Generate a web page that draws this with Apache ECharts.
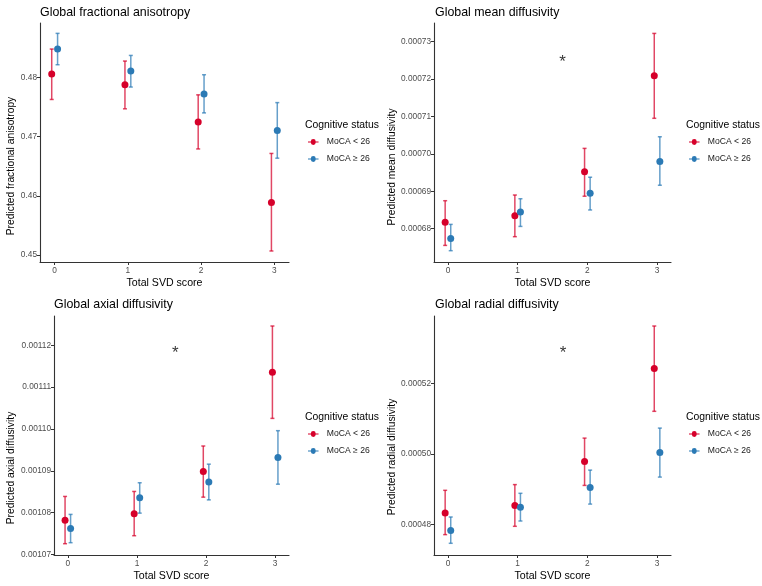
<!DOCTYPE html>
<html>
<head>
<meta charset="utf-8">
<script src="https://cdn.jsdelivr.net/npm/echarts@6/dist/echarts.min.js"></script>
<style>
html,body{margin:0;padding:0;background:#fff;}
#chart{width:762px;height:586px;}
</style>
</head>
<body>
<div id="chart"></div>
<script>
// ---------- DATA ----------
const svdScores = [0, 1, 2, 3];
const groupNames = ['MoCA < 26', 'MoCA \u2265 26'];
const panelTitles = ['Global fractional anisotropy', 'Global mean diffusivity', 'Global axial diffusivity', 'Global radial diffusivity'];
const yAxisTitles = ['Predicted fractional anisotropy', 'Predicted mean diffusivity', 'Predicted axial diffusivity', 'Predicted radial diffusivity'];
const xAxisTitle = 'Total SVD score';
const legendTitle = 'Cognitive status';

// Fractional anisotropy
const faLowEst  = [0.48058, 0.47876, 0.47249, 0.45887];
const faLowLo   = [0.47628, 0.47470, 0.46792, 0.45068];
const faLowHi   = [0.48480, 0.48277, 0.47706, 0.46716];
const faHighEst = [0.48480, 0.48108, 0.47722, 0.47102];
const faHighLo  = [0.48215, 0.47838, 0.47401, 0.46636];
const faHighHi  = [0.48745, 0.48372, 0.48046, 0.47575];
const faTicks   = [0.45, 0.46, 0.47, 0.48];

// Mean diffusivity
const mdLowEst  = [0.00068170, 0.00068347, 0.00069523, 0.00072080];
const mdLowLo   = [0.00067554, 0.00067787, 0.00068867, 0.00070947];
const mdLowHi   = [0.00068747, 0.00068899, 0.00070144, 0.00073213];
const mdHighEst = [0.00067741, 0.00068446, 0.00068947, 0.00069797];
const mdHighLo  = [0.00067413, 0.00068061, 0.00068500, 0.00069160];
const mdHighHi  = [0.00068115, 0.00068800, 0.00069374, 0.00070454];
const mdTicks   = [0.00068, 0.00069, 0.00070, 0.00071, 0.00072, 0.00073];
const mdStar    = [1.643, 0.0007248];

// Axial diffusivity
const adLowEst  = [0.00107823, 0.00107976, 0.00108983, 0.00111358];
const adLowLo   = [0.00107260, 0.00107451, 0.00108372, 0.00110254];
const adLowHi   = [0.00108389, 0.00108508, 0.00109594, 0.00112461];
const adHighEst = [0.00107625, 0.00108358, 0.00108733, 0.00109322];
const adHighLo  = [0.00107284, 0.00107990, 0.00108307, 0.00108682];
const adHighHi  = [0.00107960, 0.00108716, 0.00109160, 0.00109960];
const adTicks   = [0.00107, 0.00108, 0.00109, 0.00110, 0.00111, 0.00112];
const adStar    = [1.554, 0.00111826];

// Radial diffusivity
const rdLowEst  = [0.00048329, 0.00048539, 0.00049793, 0.00052426];
const rdLowLo   = [0.00047716, 0.00047952, 0.00049112, 0.00051214];
const rdLowHi   = [0.00048973, 0.00049135, 0.00050454, 0.00053634];
const rdHighEst = [0.00047830, 0.00048490, 0.00049055, 0.00050048];
const rdHighLo  = [0.00047470, 0.00048102, 0.00048582, 0.00049348];
const rdHighHi  = [0.00048216, 0.00048888, 0.00049546, 0.00050738];
const rdTicks   = [0.00048, 0.00050, 0.00052];
const rdStar    = [1.652, 0.00052879];

// ---------- LAYOUT / STYLE ----------
const FONT = '"Liberation Sans", Arial, sans-serif';
const COLORS = ['#D6002A', '#2B7AB5'];
const BAR_COLORS = ['rgba(214,0,42,0.72)', 'rgba(43,122,181,0.72)'];
const DODGE = 0.04;

const panels = [
  { low:[faLowEst,faLowLo,faLowHi], high:[faHighEst,faHighLo,faHighHi], ticks:faTicks, dec:2, star:null,
    grid:{left:40, top:23, width:249, height:239}, ymin:0.44882, ymax:0.4892, yname:{x:11, y:166},
    title:{left:40, top:7}, legend:{left:305, top:118} },
  { low:[mdLowEst,mdLowLo,mdLowHi], high:[mdHighEst,mdHighLo,mdHighHi], ticks:mdTicks, dec:5, star:mdStar,
    grid:{left:434, top:23, width:237, height:239}, ymin:0.00067111, ymax:0.00073491, yname:{x:392, y:167},
    title:{left:435, top:7}, legend:{left:686, top:118} },
  { low:[adLowEst,adLowLo,adLowHi], high:[adHighEst,adHighLo,adHighHi], ticks:adTicks, dec:5, star:adStar,
    grid:{left:54, top:316, width:235, height:239}, ymin:0.0010699, ymax:0.001127, yname:{x:11, y:468},
    title:{left:54, top:299}, legend:{left:305, top:410} },
  { low:[rdLowEst,rdLowLo,rdLowHi], high:[rdHighEst,rdHighLo,rdHighHi], ticks:rdTicks, dec:5, star:rdStar,
    grid:{left:434, top:316, width:237, height:239}, ymin:0.00047138, ymax:0.00053918, yname:{x:392, y:457},
    title:{left:435, top:299}, legend:{left:686, top:410} }
];

const LEGEND_ICON = 'path://M0,2.3H3.5A3,3 0 0,1 9.5,2.3H13V3.7H9.5A3,3 0 0,1 3.5,3.7H0Z';

const grids = [], xAxes = [], yAxes = [], series = [], titles = [], legends = [], graphics = [];

function errorBarRender(color) {
  return function (params, api) {
    const x = api.value(0), lo = api.value(1), hi = api.value(2);
    const pHi = api.coord([x, hi]);
    const pLo = api.coord([x, lo]);
    const hw = 2;
    const st = { stroke: color, lineWidth: 1.5 };
    return {
      type: 'group',
      children: [
        { type: 'line', shape: { x1: pHi[0], y1: pHi[1], x2: pLo[0], y2: pLo[1] }, style: st },
        { type: 'line', shape: { x1: pHi[0] - hw, y1: pHi[1], x2: pHi[0] + hw, y2: pHi[1] }, style: st },
        { type: 'line', shape: { x1: pLo[0] - hw, y1: pLo[1], x2: pLo[0] + hw, y2: pLo[1] }, style: st }
      ]
    };
  };
}

panels.forEach((p, i) => {
  grids.push(Object.assign({ containLabel: false }, p.grid));
  xAxes.push({
    type: 'value', gridIndex: i, min: -0.2, max: 3.2,
    name: xAxisTitle, nameLocation: 'middle', nameGap: 16,
    nameTextStyle: { fontFamily: FONT, fontSize: 10.6, color: '#000' },
    axisLine: { show: true, onZero: false, lineStyle: { color: '#333', width: 1.1 } },
    axisTick: { show: true, length: 3, customValues: svdScores, lineStyle: { color: '#333' } },
    axisLabel: { show: true, customValues: svdScores, margin: 5, fontFamily: FONT, fontSize: 8.3, color: '#4D4D4D',
                 formatter: v => String(Math.round(v)) },
    splitLine: { show: false }
  });
  yAxes.push({
    type: 'value', gridIndex: i, min: p.ymin, max: p.ymax,
    axisLine: { show: true, onZero: false, lineStyle: { color: '#333', width: 1.1 } },
    axisTick: { show: true, length: 3, customValues: p.ticks, lineStyle: { color: '#333' } },
    axisLabel: { show: true, customValues: p.ticks, margin: 3, fontFamily: FONT, fontSize: 8.3, color: '#4D4D4D',
                 formatter: v => Number(v).toFixed(p.dec) },
    splitLine: { show: false }
  });
  graphics.push({
    type: 'text', x: p.yname.x, y: p.yname.y, rotation: Math.PI / 2,
    style: { text: yAxisTitles[i], font: '10.3px ' + FONT, fill: '#000', align: 'center', verticalAlign: 'middle' },
    silent: true
  });
  titles.push({ text: panelTitles[i], left: p.title.left, top: p.title.top,
    textStyle: { fontFamily: FONT, fontSize: 12.4, fontWeight: 'normal', color: '#000' }, padding: 0 });
  titles.push({ text: legendTitle, left: p.legend.left, top: p.legend.top + 2,
    textStyle: { fontFamily: FONT, fontSize: 10.4, fontWeight: 'normal', color: '#000' }, padding: 0 });
  legends.push({
    data: groupNames.map(n => ({ name: n, icon: LEGEND_ICON })),
    orient: 'vertical', left: p.legend.left + 3, top: p.legend.top + 18,
    itemWidth: 13, itemHeight: 6, itemGap: 5, padding: 0, selectedMode: false,
    textStyle: { fontFamily: FONT, fontSize: 8.6, color: '#1A1A1A', lineHeight: 12, padding: [0, 0, 0, 2] }
  });

  [p.low, p.high].forEach((grp, g) => {
    const off = g === 0 ? -DODGE : DODGE;
    const [est, lo, hi] = grp;
    series.push({
      type: 'custom', name: 'eb' + i + g, xAxisIndex: i, yAxisIndex: i,
      renderItem: errorBarRender(BAR_COLORS[g]),
      encode: { x: 0, y: [1, 2] },
      data: svdScores.map((s, k) => [s + off, lo[k], hi[k]]),
      silent: true, z: 2
    });
    series.push({
      type: 'scatter', name: groupNames[g], xAxisIndex: i, yAxisIndex: i,
      symbol: 'circle', symbolSize: 7,
      itemStyle: { color: COLORS[g], opacity: 1 },
      data: svdScores.map((s, k) => [s + off, est[k]]),
      silent: true, z: 3
    });
  });

  if (p.star) {
    series.push({
      type: 'scatter', name: 'star' + i, xAxisIndex: i, yAxisIndex: i,
      symbolSize: 1, itemStyle: { color: 'rgba(0,0,0,0)' },
      label: { show: true, formatter: '*', position: 'inside', fontFamily: FONT, fontSize: 17, color: '#000', offset: [0, 1] },
      data: [p.star], silent: true, z: 4
    });
  }
});

const chart = echarts.init(document.getElementById('chart'), null, { renderer: 'canvas' });
chart.setOption({
  animation: false,
  backgroundColor: '#fff',
  title: titles,
  legend: legends,
  grid: grids,
  xAxis: xAxes,
  yAxis: yAxes,
  graphic: graphics,
  series: series
});
</script>
</body>
</html>
